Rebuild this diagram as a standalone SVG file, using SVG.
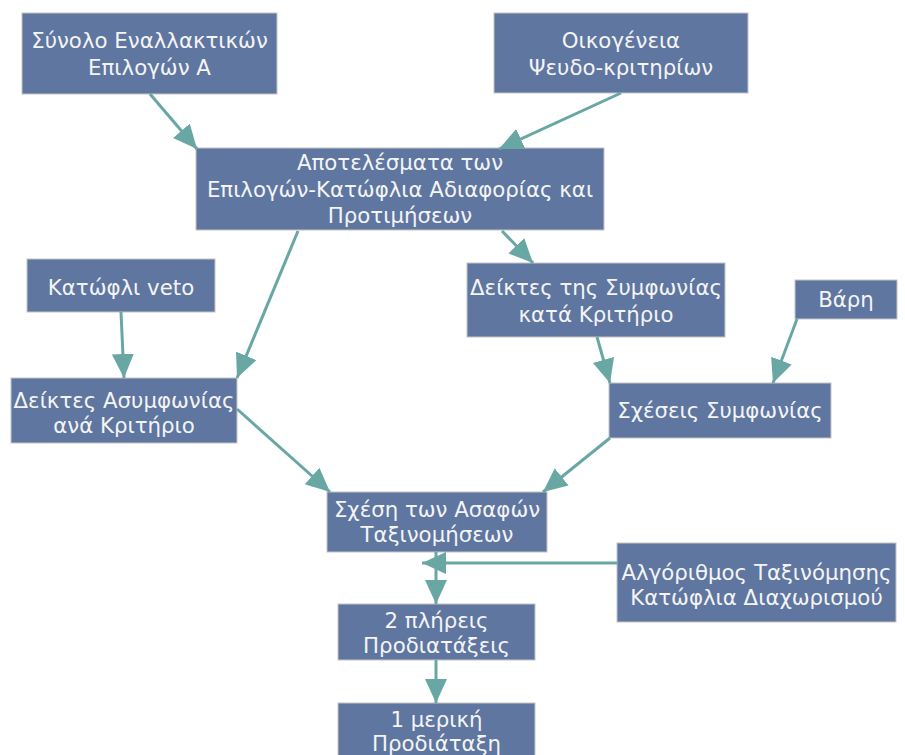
<svg xmlns="http://www.w3.org/2000/svg" width="905" height="755" viewBox="0 0 905 755">
  <style>
    .box { fill: #5e76a0; stroke: #c4c4c4; stroke-width: 1; }
    .lbl { font-family: "DejaVu Sans", Verdana, sans-serif; font-size: 21.3px; fill: #f4f4f4; text-anchor: middle; }
    .edge { stroke: #68a7a4; stroke-width: 3; fill: none; marker-end: url(#head); }
  </style>
  <defs>
    <marker id="head" markerUnits="userSpaceOnUse" markerWidth="26" markerHeight="24" refX="24" refY="11" orient="auto">
      <path d="M0,0 L24,11 L0,22 z" fill="#68a7a4"/>
    </marker>
  </defs>
  <rect width="905" height="755" fill="#ffffff"/>

  <g id="alternatives">
    <rect class="box" x="22" y="13" width="255" height="81"/>
    <text class="lbl" x="149.5" y="48">Σύνολο Εναλλακτικών</text>
    <text class="lbl" x="149.5" y="75">Επιλογών Α</text>
  </g>
  <g id="pseudo-criteria">
    <rect class="box" x="494" y="13" width="254" height="80"/>
    <text class="lbl" x="621" y="48">Οικογένεια</text>
    <text class="lbl" x="621" y="75">Ψευδο-κριτηρίων</text>
  </g>
  <g id="results">
    <rect class="box" x="196" y="148" width="408" height="82"/>
    <text class="lbl" x="400" y="170">Αποτελέσματα των</text>
    <text class="lbl" x="400" y="197">Επιλογών-Κατώφλια Αδιαφορίας και</text>
    <text class="lbl" x="400" y="223">Προτιμήσεων</text>
  </g>
  <g id="veto">
    <rect class="box" x="27" y="259" width="188" height="53"/>
    <text class="lbl" x="121" y="295">Κατώφλι veto</text>
  </g>
  <g id="discordance">
    <rect class="box" x="11" y="378" width="226" height="65"/>
    <text class="lbl" x="124" y="408">Δείκτες Ασυμφωνίας</text>
    <text class="lbl" x="124" y="433">ανά Κριτήριο</text>
  </g>
  <g id="concordance-index">
    <rect class="box" x="467" y="263" width="258" height="74"/>
    <text class="lbl" x="596" y="295">Δείκτες της Συμφωνίας</text>
    <text class="lbl" x="596" y="322">κατά Κριτήριο</text>
  </g>
  <g id="weights">
    <rect class="box" x="795" y="280" width="102" height="39"/>
    <text class="lbl" x="846" y="307">Βάρη</text>
  </g>
  <g id="concordance">
    <rect class="box" x="609" y="383" width="222" height="55"/>
    <text class="lbl" x="720" y="418">Σχέσεις Συμφωνίας</text>
  </g>
  <g id="fuzzy-relation">
    <rect class="box" x="327" y="492" width="220" height="60"/>
    <text class="lbl" x="437" y="517">Σχέση των Ασαφών</text>
    <text class="lbl" x="437" y="542">Ταξινομήσεων</text>
  </g>
  <g id="algorithm">
    <rect class="box" x="617" y="543" width="279" height="79"/>
    <text class="lbl" x="756.5" y="580">Αλγόριθμος Ταξινόμησης</text>
    <text class="lbl" x="756.5" y="605">Κατώφλια Διαχωρισμού</text>
  </g>
  <g id="complete-preorders">
    <rect class="box" x="338" y="604" width="197" height="56"/>
    <text class="lbl" x="436.5" y="628">2 πλήρεις</text>
    <text class="lbl" x="436.5" y="653">Προδιατάξεις</text>
  </g>
  <g id="partial-preorder">
    <rect class="box" x="338" y="703" width="197" height="60"/>
    <text class="lbl" x="436.5" y="727">1 μερική</text>
    <text class="lbl" x="436.5" y="751">Προδιάταξη</text>
  </g>

  <g id="connectors">
    <line class="edge" x1="150" y1="94" x2="197" y2="149"/>
    <line class="edge" x1="621" y1="93" x2="499" y2="149"/>
    <line class="edge" x1="298" y1="231" x2="237" y2="378"/>
    <line class="edge" x1="121" y1="312" x2="124" y2="378"/>
    <line class="edge" x1="502" y1="231" x2="533" y2="263"/>
    <line class="edge" x1="597" y1="337" x2="610" y2="383"/>
    <line class="edge" x1="797" y1="319" x2="773" y2="383"/>
    <line class="edge" x1="237" y1="409" x2="330" y2="492"/>
    <line class="edge" x1="610" y1="438" x2="543" y2="492"/>
    <line class="edge" x1="617" y1="563" x2="422" y2="563"/>
    <line class="edge" x1="436" y1="552" x2="436" y2="604"/>
    <line class="edge" x1="436" y1="660" x2="436" y2="703"/>
  </g>
</svg>
